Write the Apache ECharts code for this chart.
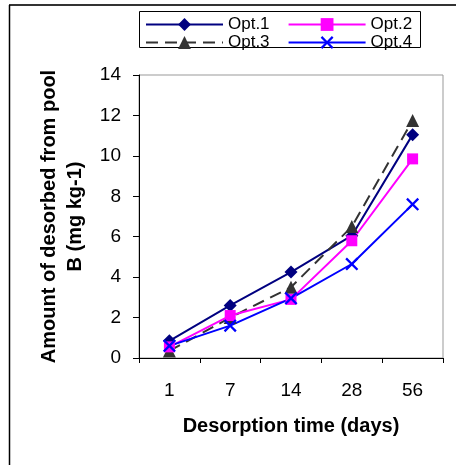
<!DOCTYPE html>
<html><head><meta charset="utf-8">
<script src="https://cdn.jsdelivr.net/npm/echarts@6/dist/echarts.min.js"></script>
<style>html,body{margin:0;padding:0;background:#fff}#c{width:456px;height:465px}</style>
</head><body><div id="c"></div>
<script>
const categories = ['1', '7', '14', '28', '56'];
const opt1 = [0.85, 2.6, 4.25, 6.05, 11.05];
const opt2 = [0.55, 2.1, 2.9, 5.8, 9.85];
const opt3 = [0.35, 2.0, 3.5, 6.5, 11.75];
const opt4 = [0.6, 1.6, 2.95, 4.65, 7.6];
const yTicks = [0, 2, 4, 6, 8, 10, 12, 14];

const X_PATH = 'path://M0,1.5L1.5,0L6,4.5L10.5,0L12,1.5L7.5,6L12,10.5L10.5,12L6,7.5L1.5,12L0,10.5L4.5,6Z';
const font = '"Liberation Sans", Arial, sans-serif';

const chart = echarts.init(document.getElementById('c'));
chart.setOption({
  animation: false,
  textStyle: { fontFamily: font },
  grid: { left: 139, right: 13, top: 75, bottom: 107, show: true, borderColor: '#999', borderWidth: 1 },
  legend: [
    { data: ['Opt.1', 'Opt.2'], left: 145, top: 16, itemWidth: 77, itemHeight: 16, itemGap: 18,
      textStyle: { fontFamily: font, fontSize: 17, color: '#000' }, padding: 0 },
    { data: ['Opt.3', 'Opt.4'], left: 145, top: 34, itemWidth: 77, itemHeight: 16, itemGap: 18,
      textStyle: { fontFamily: font, fontSize: 17, color: '#000' }, padding: 0 }
  ],
  graphic: [
    { type: 'line', shape: { x1: 9, y1: 5, x2: 456, y2: 5 }, style: { stroke: '#333', lineWidth: 2 } },
    { type: 'line', shape: { x1: 9.5, y1: 5, x2: 9.5, y2: 465 }, style: { stroke: '#000', lineWidth: 1.5 } },
    { type: 'rect', shape: { x: 139.5, y: 11.5, width: 281, height: 36 }, style: { fill: 'none', stroke: '#000', lineWidth: 1 }, z: -1 }
  ],
  xAxis: {
    type: 'category', data: categories, boundaryGap: true,
    axisLine: { lineStyle: { color: '#000', width: 1 } },
    axisTick: { show: true, length: 5, lineStyle: { color: '#000' } },
    axisLabel: { fontSize: 19, color: '#000', margin: 23, fontFamily: font },
    name: 'Desorption time (days)', nameLocation: 'middle', nameGap: 58,
    nameTextStyle: { fontSize: 20, fontWeight: 'bold', color: '#000', fontFamily: font },
    splitLine: { show: false }
  },
  yAxis: {
    type: 'value', min: 0, max: 14, interval: 2,
    axisLine: { show: true, lineStyle: { color: '#000', width: 1 } },
    axisTick: { show: true, length: 6, lineStyle: { color: '#000' } },
    axisLabel: { fontSize: 19, color: '#000', margin: 18, fontFamily: font },
    splitLine: { show: false },
    name: 'Amount of desorbed from pool\nB (mg kg-1)', nameLocation: 'middle', nameGap: 48,
    nameTextStyle: { fontSize: 20, fontWeight: 'bold', color: '#000', lineHeight: 26, fontFamily: font }
  },
  series: [
    { name: 'Opt.1', type: 'line', data: opt1, symbol: 'diamond', symbolSize: 13,
      color: '#000080', lineStyle: { width: 2, color: '#000080' }, itemStyle: { color: '#000080' } },
    { name: 'Opt.3', type: 'line', data: opt3, symbol: 'triangle', symbolSize: 13,
      color: '#333333', lineStyle: { width: 2, type: [12, 7], color: '#333333' }, itemStyle: { color: '#333333' } },
    { name: 'Opt.2', type: 'line', data: opt2, symbol: 'rect', symbolSize: 11,
      color: '#FF00FF', lineStyle: { width: 2, color: '#FF00FF' }, itemStyle: { color: '#FF00FF' } },
    { name: 'Opt.4', type: 'line', data: opt4, symbol: X_PATH, symbolSize: 13,
      color: '#0000FF', lineStyle: { width: 2, color: '#0000FF' }, itemStyle: { color: '#0000FF' } }
  ]
});
</script></body></html>
